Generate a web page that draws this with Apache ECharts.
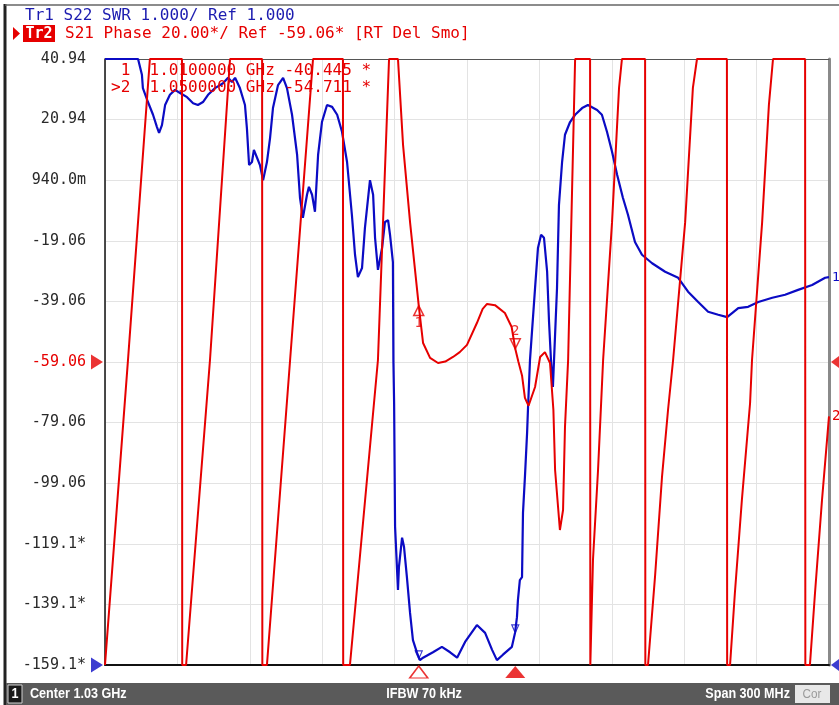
<!DOCTYPE html>
<html><head><meta charset="utf-8">
<script src="https://cdn.jsdelivr.net/npm/echarts@6/dist/echarts.min.js"></script>
<style>html,body{margin:0;padding:0;background:#fff}#c{width:839px;height:705px}</style>
</head><body><div id="c"></div>
<script>
// ---- axis ranges (stimulus in MHz) ----
const freqMin = 880, freqMax = 1180;          // Center 1.03 GHz, Span 300 MHz
const phaseMin = -159.06, phaseMax = 40.94;   // Tr2: 20 deg/div, Ref -59.06 at div 5
const swrMin = 1, swrMax = 11;                // Tr1: 1.000/div, Ref 1.000 at div 0
const divisions = 10;
const refPhase = -59.06, refSwr = 1.0;

// tick labels of the active trace (Tr2), bottom to top
const phaseTickLabels = ["-159.1*","-139.1*","-119.1*","-99.06","-79.06","-59.06","-39.06","-19.06","940.0m","20.94","40.94"];

// Tr2 S21 phase [MHz, deg] (display clipped to the graticule)
const phaseTrace = [
 [880.0,-159.06],[889.5,-58.7],[898.6,40.94],[911.9,40.94],[912.0,-159.06],
 [913.6,-159.06],[923.5,-58.4],[931.8,40.94],[945.1,40.94],[945.2,-159.06],
 [947.1,-159.06],[956.7,-58.4],[966.2,40.94],[978.6,40.94],[978.7,-159.06],
 [981.5,-159.06],[993.1,-58.4],[997.7,40.94],[1001.4,40.94],[1003.5,12.6],[1006.4,-12.9],
 [1010.0,-40.445],[1011.8,-52.8],[1014.7,-57.7],[1018.0,-59.4],[1021.0,-58.9],[1024.2,-57.4],
 [1027.0,-55.8],[1030.0,-53.4],[1034.1,-46.2],[1036.5,-41.5],[1038.3,-39.9],[1041.6,-40.3],
 [1045.7,-42.9],[1048.5,-47.5],[1050.0,-54.711],[1051.3,-59.0],[1052.8,-63.5],[1054.0,-70.9],
 [1055.5,-73.5],[1056.3,-73.2],[1058.2,-67.3],[1060.3,-57.4],[1062.3,-55.8],[1064.4,-59.4],
 [1065.8,-74.9],[1066.5,-94.7],[1068.5,-114.5],[1069.8,-107.9],[1070.6,-80.5],[1071.9,-58.4],
 [1074.8,40.94],[1081.0,40.94],[1081.1,-159.06],
 [1081.4,-159.06],[1082.2,-124.4],[1084.3,-94.7],[1086.4,-58.4],[1090.1,-12.9],[1093.0,31.4],
 [1094.2,40.94],[1103.8,40.94],[1103.9,-159.06],
 [1105.0,-159.06],[1107.9,-130.0],[1110.8,-97.0],[1113.3,-74.9],[1115.4,-58.4],[1120.4,-12.9],
 [1123.6,31.4],[1125.3,40.94],[1137.7,40.94],[1137.8,-159.06],
 [1139.0,-159.06],[1141.0,-135.3],[1143.9,-104.6],[1147.3,-72.6],[1148.1,-58.4],[1152.3,-12.9],
 [1155.1,25.8],[1156.8,40.94],[1170.1,40.94],[1170.2,-159.06],
 [1172.1,-159.06],[1174.2,-135.3],[1177.1,-104.6],[1180.0,-77.0]
];

// Tr1 S22 SWR [MHz, SWR] (clipped at top of graticule)
const swrTrace = [
 [880,11],[892.4,11],[893.7,11],[895.3,10.74],[895.7,10.52],[897.8,10.29],[899.9,10.08],[901.5,9.88],
 [902.4,9.78],[903.6,9.91],[904.9,10.24],[906.9,10.41],[909.0,10.49],[911.1,10.44],[914.0,10.37],
 [916.5,10.27],[918.5,10.24],[920.6,10.29],[922.7,10.41],[925.6,10.52],[928.9,10.60],[931.0,10.69],
 [932.6,10.62],[933.9,10.69],[935.9,10.52],[938.0,10.24],[938.8,9.86],[939.7,9.25],[940.9,9.30],
 [941.7,9.50],[943.0,9.37],[944.2,9.25],[945.5,9.00],[947.1,9.30],[948.4,9.70],[949.6,10.19],
 [951.7,10.57],[953.8,10.69],[955.4,10.52],[957.5,10.08],[959.6,9.42],[960.8,8.71],[962.0,8.38],
 [963.7,8.76],[964.5,8.89],[965.8,8.76],[967.0,8.48],[968.3,9.42],[969.9,9.96],[972.0,10.24],
 [974.1,10.21],[976.2,10.08],[978.2,9.80],[980.3,9.30],[982.3,8.43],[983.6,7.77],[984.8,7.40],
 [986.5,7.55],[987.7,8.21],[989.8,9.00],[991.1,8.76],[991.9,8.05],[993.1,7.52],[994.8,7.88],
 [996.0,8.31],[997.3,8.34],[998.1,8.10],[999.3,7.65],[999.5,6.03],[999.8,5.32],[1000.2,3.28],
 [1001.4,2.24],[1001.8,2.62],[1003.1,3.10],[1003.9,2.95],[1005.1,2.45],[1006.4,1.86],[1007.6,1.41],
 [1009.3,1.20],[1010.5,1.08],[1011.8,1.12],[1015.9,1.21],[1019.6,1.30],[1023.0,1.21],[1025.9,1.12],
 [1029.2,1.38],[1034.1,1.66],[1037.5,1.53],[1040.4,1.25],[1042.4,1.08],[1044.9,1.17],[1048.6,1.30],
 [1049.9,1.53],[1050.7,1.79],[1051.1,2.07],[1051.9,2.40],[1052.8,2.45],[1053.2,3.51],[1054.0,4.10],
 [1054.9,4.83],[1055.3,5.26],[1056.1,6.03],[1058.2,7.22],[1059.4,7.88],[1060.7,8.10],[1061.9,8.05],
 [1063.2,7.49],[1064.0,6.66],[1064.8,6.03],[1065.6,5.59],[1067.3,7.22],[1068.1,8.59],[1069.4,9.30],
 [1070.6,9.75],[1072.7,9.96],[1074.8,10.08],[1077.7,10.19],[1080.1,10.24],[1083.9,10.16],[1085.9,10.08],
 [1088.0,9.80],[1090.1,9.47],[1092.2,9.09],[1094.6,8.71],[1096.7,8.43],[1099.6,7.98],[1102.5,7.77],
 [1106.7,7.63],[1112.1,7.49],[1117.5,7.39],[1121.6,7.16],[1125.8,6.99],[1129.9,6.83],[1134.1,6.78],
 [1137.8,6.74],[1142.4,6.89],[1146.5,6.91],[1150.7,6.99],[1156.5,7.06],[1161.8,7.11],[1167.2,7.19],
 [1173.0,7.27],[1178.4,7.39],[1180,7.40]
];

// markers
const markerFreqs = [1010, 1050];
const markerPhases = [-40.445, -54.711];
const markerSwr = [1.10, 1.53];
const markerNames = ["1", "2"];

// texts
const headerTr1 = "Tr1 S22 SWR 1.000/ Ref 1.000";
const headerTr2Tag = "Tr2";
const headerTr2 = "S21 Phase 20.00*/ Ref -59.06* [RT Del Smo]";
const markerReadouts = [" 1  1.0100000 GHz -40.445 *", ">2  1.0500000 GHz -54.711 *"];
const statusChannel = "1";
const statusCenter = "Center 1.03 GHz";
const statusIfbw = "IFBW 70 kHz";
const statusSpan = "Span 300 MHz";
const statusCor = "Cor";

const MONO = '"DejaVu Sans Mono", "Liberation Mono", monospace';
const NARROW = '"Liberation Sans Narrow", "Liberation Sans", Arial, sans-serif';
const RED = '#e60000', BLUE = '#0b0bc4';

const chart = echarts.init(document.getElementById('c'), null, {renderer: 'canvas', width: 839, height: 705});

const hiddenAxis = (min, max) => ({type: 'value', min: min, max: max, show: false});
const statusText = (text, x, align, extra) => Object.assign({
  type: 'text', z: 102, x: x, y: 694.5, scaleX: 0.9,
  style: {text: text, x: 0, y: 0, font: 'bold 14px ' + NARROW, fill: '#fff', align: align, verticalAlign: 'middle'}
}, extra || {});

const option = {
  animation: false,
  backgroundColor: '#ffffff',
  grid: {left: 105, top: 59, width: 724, height: 606, containLabel: false, outerBoundsMode: 'none'},
  xAxis: [
    hiddenAxis(freqMin, freqMax),
    {type: 'value', min: 0, max: divisions, interval: 1, position: 'bottom',
     axisLine: {show: true, onZero: false, lineStyle: {color: '#111', width: 2}},
     axisTick: {show: false}, axisLabel: {show: false},
     splitLine: {show: true, lineStyle: {color: '#e3e3e3', width: 1}}},
    {type: 'value', min: 0, max: divisions, position: 'top',
     axisLine: {show: true, onZero: false, lineStyle: {color: '#555', width: 1}},
     axisTick: {show: false}, axisLabel: {show: false}, splitLine: {show: false}}
  ],
  yAxis: [
    {type: 'value', min: 0, max: divisions, interval: 1, position: 'left',
     axisLine: {show: true, onZero: false, lineStyle: {color: '#111', width: 1.5}},
     axisTick: {show: false},
     axisLabel: {show: true, margin: 19, fontFamily: MONO, fontSize: 15,
       showMinLabel: true, showMaxLabel: true,
       formatter: v => phaseTickLabels[Math.round(Number(v))],
       color: v => phaseTickLabels[Math.round(Number(v))] === "-59.06" ? RED : '#2a2a2a'},
     splitLine: {show: true, lineStyle: {color: '#e3e3e3', width: 1}}},
    hiddenAxis(phaseMin, phaseMax),
    hiddenAxis(swrMin, swrMax),
    {type: 'value', min: 0, max: divisions, position: 'right',
     axisLine: {show: true, onZero: false, lineStyle: {color: '#8a8a8a', width: 3}},
     axisTick: {show: false}, axisLabel: {show: false}, splitLine: {show: false}}
  ],
  series: [
    {type: 'line', name: 'Tr1 SWR', xAxisIndex: 0, yAxisIndex: 2, data: swrTrace,
     showSymbol: false, symbol: 'none', clip: true, z: 3,
     lineStyle: {color: BLUE, width: 2.2},
     endLabel: {show: true, formatter: '1', color: BLUE, fontFamily: MONO, fontSize: 13, distance: 3}},
    {type: 'line', name: 'Tr2 Phase', xAxisIndex: 0, yAxisIndex: 1, data: phaseTrace,
     showSymbol: false, symbol: 'none', clip: true, z: 4,
     lineStyle: {color: RED, width: 2},
     endLabel: {show: true, formatter: '2', color: RED, fontFamily: MONO, fontSize: 14, distance: 3}},
    // marker symbols on Tr2
    {type: 'scatter', xAxisIndex: 0, yAxisIndex: 1, clip: false, z: 6, silent: true,
     data: markerFreqs.map((f, i) => ({
       value: [f, markerPhases[i]], symbol: 'triangle', symbolSize: [10, 10],
       symbolRotate: i === 0 ? 0 : 180, symbolOffset: [0, i === 0 ? 5 : -5]})),
     itemStyle: {color: 'rgba(255,255,255,0)', borderColor: RED, borderWidth: 1.5}},
    // marker numbers on Tr2
    {type: 'scatter', xAxisIndex: 0, yAxisIndex: 1, clip: false, z: 6, silent: true,
     symbolSize: 1, itemStyle: {color: 'rgba(0,0,0,0)'},
     data: markerFreqs.map((f, i) => ({
       value: [f, markerPhases[i]],
       label: {show: true, formatter: markerNames[i], position: 'inside',
               offset: [0, i === 0 ? 18 : -17], color: RED, fontFamily: MONO, fontSize: 14}}))},
    // marker symbols on Tr1
    {type: 'scatter', xAxisIndex: 0, yAxisIndex: 2, clip: false, z: 5, silent: true,
     data: markerFreqs.map((f, i) => ({value: [f, markerSwr[i]], symbolRotate: 180, symbolOffset: [0, -4]})),
     symbol: 'triangle', symbolSize: [7, 8],
     itemStyle: {color: 'rgba(255,255,255,0)', borderColor: BLUE, borderWidth: 1.2}},
    // stimulus marker indicators below the graticule
    {type: 'scatter', xAxisIndex: 0, yAxisIndex: 1, clip: false, z: 7, silent: true,
     data: markerFreqs.map((f, i) => ({
       value: [f, phaseMin], symbol: 'triangle', symbolSize: i === 0 ? [18, 12] : [20, 12], symbolOffset: [0, 7],
       itemStyle: i === 0 ? {color: 'rgba(255,255,255,0)', borderColor: RED, borderWidth: 1.5} : {color: RED}}))},
    // reference-level arrows (left & right)
    {type: 'scatter', xAxisIndex: 0, yAxisIndex: 1, clip: false, z: 7, silent: true,
     symbol: 'triangle', itemStyle: {color: RED},
     data: [
       {value: [freqMin, refPhase], symbolRotate: -90, symbolSize: [15, 12], symbolOffset: [-8, 0]},
       {value: [freqMax, refPhase], symbolRotate: 90, symbolSize: [15, 10], symbolOffset: [7, 0]}]},
    {type: 'scatter', xAxisIndex: 0, yAxisIndex: 2, clip: false, z: 7, silent: true,
     symbol: 'triangle', itemStyle: {color: BLUE},
     data: [
       {value: [freqMin, refSwr], symbolRotate: -90, symbolSize: [15, 12], symbolOffset: [-8, 0]},
       {value: [freqMax, refSwr], symbolRotate: 90, symbolSize: [15, 10], symbolOffset: [7, 0]}]}
  ],
  graphic: {elements: [
    // window frame
    {type: 'line', z: 100, shape: {x1: 5, y1: 4, x2: 5, y2: 705}, style: {stroke: '#222', lineWidth: 3}},
    {type: 'line', z: 100, shape: {x1: 5, y1: 5, x2: 839, y2: 5}, style: {stroke: '#666', lineWidth: 1.5}},
    // header
    {type: 'text', z: 100, style: {text: headerTr1, x: 25, y: 16, font: '16px ' + MONO, fill: '#1c1cb0', verticalAlign: 'middle'}},
    {type: 'polygon', z: 100, shape: {points: [[13, 27], [20, 33.5], [13, 40]]}, style: {fill: RED}},
    {type: 'rect', z: 100, shape: {x: 23, y: 25, width: 32, height: 17}, style: {fill: RED}},
    {type: 'text', z: 101, style: {text: headerTr2Tag, x: 39, y: 34, font: 'bold 15px ' + MONO, fill: '#fff', align: 'center', verticalAlign: 'middle'}},
    {type: 'text', z: 100, style: {text: headerTr2, x: 65, y: 34, font: '16px ' + MONO, fill: RED, verticalAlign: 'middle'}},
    // marker readouts
    {type: 'text', z: 100, style: {text: markerReadouts[0], x: 111, y: 71, font: '16px ' + MONO, fill: RED, verticalAlign: 'middle'}},
    {type: 'text', z: 100, style: {text: markerReadouts[1], x: 111, y: 88, font: '16px ' + MONO, fill: RED, verticalAlign: 'middle'}},
    // status bar
    {type: 'rect', z: 100, shape: {x: 6, y: 683, width: 833, height: 22}, style: {fill: '#5a5a5a'}},
    {type: 'rect', z: 101, shape: {x: 8, y: 685, width: 14, height: 18}, style: {fill: '#1a1a1a', stroke: '#d0d0d0', lineWidth: 1}},
    statusText(statusChannel, 15, 'center'),
    statusText(statusCenter, 30, 'left'),
    statusText(statusIfbw, 424, 'center'),
    statusText(statusSpan, 790, 'right'),
    {type: 'rect', z: 101, shape: {x: 795, y: 685, width: 35, height: 18}, style: {fill: '#e8e8e8'}},
    {type: 'text', z: 102, x: 812, y: 694.5, scaleX: 0.9, style: {text: statusCor, x: 0, y: 0, font: '13px ' + NARROW, fill: '#9a9a9a', align: 'center', verticalAlign: 'middle'}}
  ]}
};
chart.setOption(option);
</script>
</body></html>
